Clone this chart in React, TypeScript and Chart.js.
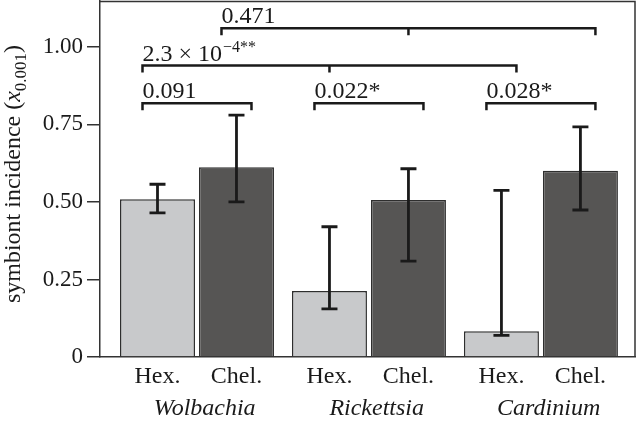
import React, { useEffect, useRef } from "react";
import { Chart, registerables } from "chart.js";
Chart.register(...registerables);

const groups = ["Wolbachia", "Rickettsia", "Cardinium"];
const seriesLabels = ["Hex.", "Chel."];
const hexValues = [0.509, 0.213, 0.083];
const chelValues = [0.612, 0.506, 0.601];
const hexLow = [0.465, 0.155, 0.07];
const hexHigh = [0.557, 0.42, 0.537];
const chelLow = [0.5, 0.309, 0.474];
const chelHigh = [0.78, 0.607, 0.742];
const yTickValues = [0, 0.25, 0.5, 0.75, 1.0];
const yTickLabels = ["0", "0.25", "0.50", "0.75", "1.00"];

// significance brackets: endpoints as [groupIndex, seriesIndex]
const bracketLabels = ["0.091", "0.022*", "0.028*", "2.3 × 10^−4**", "0.471"];
const bracketLevels = [0.818, 0.818, 0.818, 0.94, 1.06];
const bracketFrom = [[0, 0], [1, 0], [2, 0], [0, 0], [0, 1]];
const bracketMid: (number[] | null)[] = [null, null, null, [1, 0], [1, 1]];
const bracketTo = [[0, 1], [1, 1], [2, 1], [2, 0], [2, 1]];

const FONT = `"Liberation Serif", Tinos, "Times New Roman", serif`;
const LIGHT = "#c8c9cb";
const DARK = "#565554";
const INK = "#1a1a1a";
const CAT_PCT = 0.9186;
const BAR_PCT = 0.9494;
const X_MIN = -0.564;
const X_MAX = 2.547;

const lows = [hexLow, chelLow];
const highs = [hexHigh, chelHigh];

const overlayPlugin = {
  id: "overlay",
  afterDatasetsDraw(chart: any) {
    const ctx = chart.ctx;
    const y = chart.scales.y;
    const area = chart.chartArea;
    ctx.save();
    // frame top and right
    ctx.strokeStyle = "#333";
    ctx.lineWidth = 1.5;
    ctx.beginPath();
    ctx.moveTo(area.left, area.top + 0.5);
    ctx.lineTo(area.right, area.top + 0.5);
    ctx.lineTo(area.right, area.bottom);
    ctx.stroke();

    // error bars
    ctx.strokeStyle = INK;
    ctx.lineWidth = 2.8;
    for (let s = 0; s < 2; s++) {
      const meta = chart.getDatasetMeta(s);
      meta.data.forEach((bar: any, i: number) => {
        const x = bar.x;
        const yl = y.getPixelForValue(lows[s][i]);
        const yh = y.getPixelForValue(highs[s][i]);
        ctx.beginPath();
        ctx.moveTo(x, yl);
        ctx.lineTo(x, yh);
        ctx.moveTo(x - 8, yl);
        ctx.lineTo(x + 8, yl);
        ctx.moveTo(x - 8, yh);
        ctx.lineTo(x + 8, yh);
        ctx.stroke();
      });
    }

    // brackets
    const barX = (p: number[]) => chart.getDatasetMeta(p[1]).data[p[0]].x;
    ctx.lineWidth = 2.5;
    ctx.fillStyle = INK;
    ctx.textBaseline = "alphabetic";
    ctx.textAlign = "left";
    bracketLabels.forEach((label, k) => {
      const yy = y.getPixelForValue(bracketLevels[k]);
      const x1 = barX(bracketFrom[k]) - 15;
      const x2 = barX(bracketTo[k]) + 15;
      const drop = 7;
      ctx.beginPath();
      ctx.moveTo(x1, yy + drop);
      ctx.lineTo(x1, yy);
      ctx.lineTo(x2, yy);
      ctx.lineTo(x2, yy + drop);
      const mid = bracketMid[k];
      if (mid) {
        const xm = barX(mid);
        ctx.moveTo(xm, yy);
        ctx.lineTo(xm, yy + drop);
      }
      ctx.stroke();
      const parts = label.split("^");
      ctx.font = `24px ${FONT}`;
      ctx.fillText(parts[0], x1, yy - 5);
      if (parts[1]) {
        const w = ctx.measureText(parts[0]).width;
        ctx.font = `16px ${FONT}`;
        ctx.fillText(parts[1], x1 + w + 1, yy - 14);
      }
    });
    ctx.restore();
  },
  afterDraw(chart: any) {
    const ctx = chart.ctx;
    ctx.save();
    ctx.fillStyle = INK;
    ctx.translate(20, 174);
    ctx.rotate(-Math.PI / 2);
    ctx.textBaseline = "alphabetic";
    ctx.textAlign = "left";
    const pieces = [
      { t: "symbiont incidence (", f: `24px ${FONT}`, dy: 0 },
      { t: "x", f: `italic 24px ${FONT}`, dy: 0 },
      { t: "0.001", f: `17px ${FONT}`, dy: 6 },
      { t: ")", f: `24px ${FONT}`, dy: 0 },
    ];
    let total = 0;
    pieces.forEach((p) => {
      ctx.font = p.f;
      total += ctx.measureText(p.t).width;
    });
    let x = -total / 2;
    pieces.forEach((p) => {
      ctx.font = p.f;
      ctx.fillText(p.t, x, p.dy);
      x += ctx.measureText(p.t).width;
    });
    ctx.restore();
  },
};

export default function App() {
  const ref = useRef<HTMLCanvasElement>(null);
  useEffect(() => {
    let chart: any = null;
    let cancelled = false;
    const build = () => {
      if (cancelled || !ref.current) return;
      const offset = CAT_PCT / 4;
      chart = new Chart(ref.current, {
        type: "bar",
        data: {
          datasets: [
            {
              label: seriesLabels[0],
              data: hexValues.map((v, i) => ({ x: i, y: v })),
              backgroundColor: LIGHT,
              borderColor: "#2e2e2e",
              borderWidth: 1.5,
            },
            {
              label: seriesLabels[1],
              data: chelValues.map((v, i) => ({ x: i, y: v })),
              backgroundColor: DARK,
              borderColor: "#2e2e2e",
              borderWidth: 1.5,
            },
          ],
        },
        options: {
          responsive: false,
          animation: false,
          devicePixelRatio: 1,
          categoryPercentage: CAT_PCT,
          barPercentage: BAR_PCT,
          layout: { padding: { top: 1, right: 4, left: 0, bottom: 0 } },
          plugins: { legend: { display: false }, tooltip: { enabled: false } },
          scales: {
            x: {
              type: "linear",
              display: false,
              offset: false,
              min: X_MIN,
              max: X_MAX,
              afterBuildTicks: (s: any) => {
                s.ticks = groups.map((_, i) => ({ value: i }));
              },
            },
            xs: {
              type: "linear",
              position: "bottom",
              offset: false,
              min: X_MIN,
              max: X_MAX,
              grid: { display: false },
              border: { display: true, color: "#333", width: 1.5 },
              afterBuildTicks: (s: any) => {
                const t: any[] = [];
                groups.forEach((_, i) => {
                  t.push({ value: i - offset });
                  t.push({ value: i + offset });
                });
                s.ticks = t;
              },
              afterFit: (s: any) => {
                s.height = 30;
                s.paddingLeft = 0;
                s.paddingRight = 0;
              },
              ticks: {
                autoSkip: false,
                maxRotation: 0,
                padding: -3,
                color: INK,
                font: { family: FONT, size: 24 },
                callback: (_v: any, i: number) => seriesLabels[i % 2],
              },
            },
            x2: {
              type: "linear",
              position: "bottom",
              offset: false,
              min: X_MIN,
              max: X_MAX,
              grid: { display: false },
              border: { display: false },
              afterBuildTicks: (s: any) => {
                s.ticks = groups.map((_, i) => ({ value: i + 0.045 }));
              },
              afterFit: (s: any) => {
                s.height = 37;
                s.paddingLeft = 0;
                s.paddingRight = 0;
              },
              ticks: {
                autoSkip: false,
                maxRotation: 0,
                padding: -1,
                color: INK,
                font: { family: FONT, size: 24, style: "italic" },
                callback: (_v: any, i: number) => groups[i],
              },
            },
            y: {
              min: 0,
              max: 1.148,
              grid: {
                drawOnChartArea: false,
                drawTicks: true,
                tickLength: 13,
                color: "#333",
                lineWidth: 1.5,
              },
              border: { display: true, color: "#333", width: 1.5 },
              afterBuildTicks: (s: any) => {
                s.ticks = yTickValues.map((v) => ({ value: v }));
              },
              afterFit: (s: any) => {
                s.width = 100;
                s.paddingTop = 0;
                s.paddingBottom = 0;
              },
              ticks: {
                padding: 4,
                color: INK,
                font: { family: FONT, size: 23 },
                callback: (_v: any, i: number) => yTickLabels[i],
              },
            },
          },
        },
        plugins: [overlayPlugin],
      } as any);
    };
    const fonts: any = (document as any).fonts;
    const later = () => setTimeout(build, 60);
    if (fonts && fonts.load) {
      Promise.all([
        fonts.load(`24px "Liberation Serif"`),
        fonts.load(`italic 24px "Liberation Serif"`),
        fonts.ready,
      ])
        .catch(() => null)
        .then(later);
    } else {
      later();
    }
    return () => {
      cancelled = true;
      if (chart) chart.destroy();
    };
  }, []);
  return (
    <div style={{ position: "fixed", left: 0, top: 0, width: 639, height: 424, background: "#fff" }}>
      <span
        style={{
          position: "absolute",
          left: 0,
          top: 0,
          fontFamily: FONT,
          fontSize: 24,
          color: "#fff",
          opacity: 0.01,
        }}
      >
        x<i>x</i>
      </span>
      <canvas ref={ref} width={639} height={424} style={{ position: "absolute", left: 0, top: 0 }} />
    </div>
  );
}
